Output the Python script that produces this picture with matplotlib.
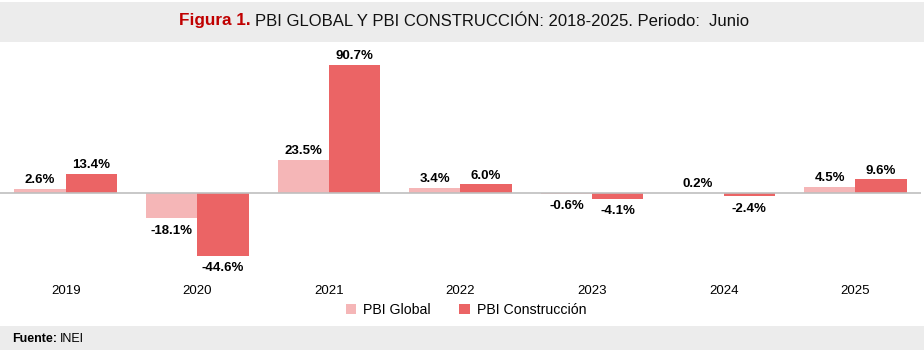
import numpy as np
import matplotlib.pyplot as plt
from matplotlib.patches import Rectangle

plt.rcParams['font.family'] = ['Liberation Sans', 'DejaVu Sans']

years = ['2019', '2020', '2021', '2022', '2023', '2024', '2025']
pbi_global = [2.6, -18.1, 23.5, 3.4, -0.6, 0.2, 4.5]
pbi_construccion = [13.4, -44.6, 90.7, 6.0, -4.1, -2.4, 9.6]
series_names = ['PBI Global', 'PBI Construcción']

COL_GLOBAL = '#f5b6b7'
COL_CONS = '#eb6465'
BAND = '#ececec'

W, H = 924, 354
fig = plt.figure(figsize=(W / 100, H / 100), dpi=100)

# gray bands (title and source)
fig.patches.append(Rectangle((0, 1 - 42 / H), 1, 40 / H, transform=fig.transFigure,
                             facecolor=BAND, edgecolor='none', zorder=0))
fig.patches.append(Rectangle((0, 1 - 350 / H), 1, 24 / H, transform=fig.transFigure,
                             facecolor=BAND, edgecolor='none', zorder=0))

ax = fig.add_axes([0, 1 - 275 / H, 921 / W, 227 / H])
ax.set_facecolor('none')

x = np.arange(len(years))
bw = 0.39
b1 = ax.bar(x - bw / 2, pbi_global, bw, color=COL_GLOBAL, label=series_names[0], zorder=2)
b2 = ax.bar(x + bw / 2, pbi_construccion, bw, color=COL_CONS, label=series_names[1], zorder=2)

ax.axhline(0, color='#bfbfbf', linewidth=1.2, zorder=3)

for bars, vals in ((b1, pbi_global), (b2, pbi_construccion)):
    for b, v in zip(bars, vals):
        cx = b.get_x() + b.get_width() / 2
        if v >= 0:
            ax.annotate(f'{v:.1f}%', (cx, v), xytext=(0, 2), textcoords='offset points',
                        ha='center', va='bottom', fontsize=9.5, fontweight='bold')
        else:
            ax.annotate(f'{v:.1f}%', (cx, v), xytext=(0, -4.5), textcoords='offset points',
                        ha='center', va='top', fontsize=9.5, fontweight='bold')

ax.set_xlim(-0.5, len(years) - 0.5)
ax.set_ylim(-58.2, 102.8)
ax.set_xticks(x)
ax.set_xticklabels(years, fontsize=9.5)
ax.tick_params(axis='x', length=0, pad=7)
ax.set_yticks([])
for s in ax.spines.values():
    s.set_visible(False)

fig.legend(handles=[b1, b2], labels=series_names, loc='center', ncol=2,
           bbox_to_anchor=(466 / W, 1 - 310 / H), frameon=False, fontsize=10.2,
           handlelength=0.75, handleheight=0.75, handletextpad=0.5, columnspacing=2.0)

# title
ty = 1 - 21 / H
fig.text(251 / W, ty, 'Figura 1.', ha='right', va='center', fontsize=12.3,
         fontweight='bold', color='#c00000')
fig.text(255 / W, ty, 'PBI GLOBAL Y PBI CONSTRUCCIÓN: 2018-2025. Periodo:  Junio',
         ha='left', va='center', fontsize=12, color='#111111')

# source
sy = 1 - 339 / H
fig.text(12 / W, sy, 'Fuente:', ha='left', va='center', fontsize=9, fontweight='bold')
fig.text(60 / W, sy, 'INEI', ha='left', va='center', fontsize=9)

fig.savefig('out.png', dpi=100)
